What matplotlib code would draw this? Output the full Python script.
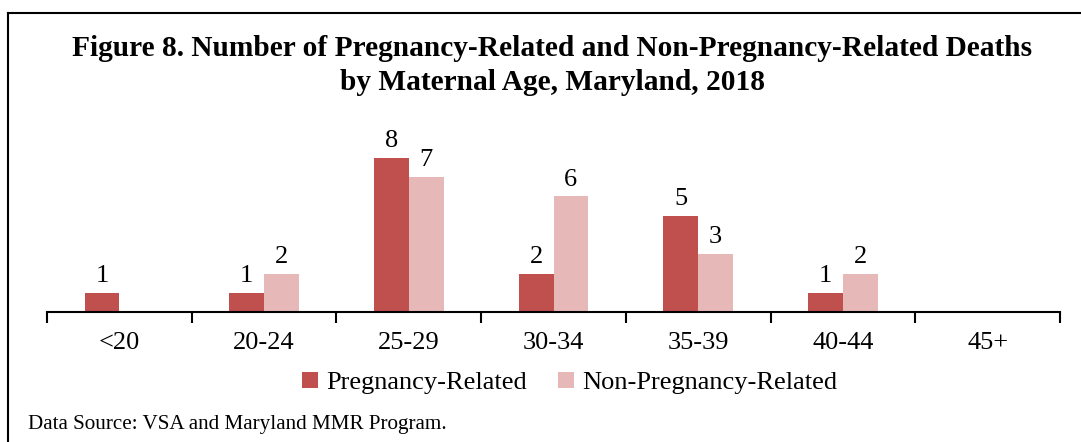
import matplotlib.pyplot as plt
import numpy as np

ages = ['<20', '20-24', '25-29', '30-34', '35-39', '40-44', '45+']
pregnancy_related = [1, 1, 8, 2, 5, 1, 0]
non_pregnancy_related = [0, 2, 7, 6, 3, 2, 0]

plt.rcParams['font.family'] = ['Liberation Serif', 'DejaVu Serif']
serif = 'Liberation Serif'

W, H = 1081, 442
fig = plt.figure(figsize=(W / 100, H / 100), dpi=100)

# outer frame (only left and top edges visible)
fig.add_artist(plt.Line2D([8 / W, 8 / W], [0, 1 - 13 / H], color='black', lw=1.5, transform=fig.transFigure))
fig.add_artist(plt.Line2D([8 / W, 1], [1 - 13 / H, 1 - 13 / H], color='black', lw=1.5, transform=fig.transFigure))

# axes: x 47..1060, y bottom at 312, 19.25 px per unit
ax_left, ax_right = 47, 1060
ax_bottom = 312
ymax = 9
ax_top = ax_bottom - ymax * 19.25
ax = fig.add_axes([ax_left / W, 1 - ax_bottom / H, (ax_right - ax_left) / W, (ax_bottom - ax_top) / H])

x = np.arange(len(ages))
w = 0.24
b1 = ax.bar(x - w / 2, pregnancy_related, w, color='#C0504D', label='Pregnancy-Related')
b2 = ax.bar(x + w / 2, non_pregnancy_related, w, color='#E6B9B8', label='Non-Pregnancy-Related')

for bars, vals in ((b1, pregnancy_related), (b2, non_pregnancy_related)):
    for rect, v in zip(bars, vals):
        if v > 0:
            ax.text(rect.get_x() + rect.get_width() / 2, v + 0.3, str(v),
                    ha='center', va='bottom', fontsize=19, family=serif)

ax.set_xlim(-0.5, len(ages) - 0.5)
ax.set_ylim(0, ymax)
ax.set_yticks([])
for s in ['top', 'right', 'left']:
    ax.spines[s].set_visible(False)
ax.spines['bottom'].set_linewidth(1.5)
ax.set_xticks(np.arange(len(ages) + 1) - 0.5)
ax.set_xticklabels([])
ax.tick_params(axis='x', length=8, width=1.5, direction='out')
for i, a in enumerate(ages):
    ax.text(i, -1.05, a, ha='center', va='top', fontsize=19, family=serif)

ax.legend(loc='center', bbox_to_anchor=(0.516, -0.41), ncol=2, frameon=False,
          prop={'family': serif, 'size': 19}, handlelength=0.6, handleheight=0.6,
          handletextpad=0.3, columnspacing=1.2)

fig.text(552 / W, 1 - 48 / H, 'Figure 8. Number of Pregnancy-Related and Non-Pregnancy-Related Deaths',
         ha='center', va='center', fontsize=21.2, fontweight='bold', family=serif)
fig.text(552 / W, 1 - 82 / H, 'by Maternal Age, Maryland, 2018',
         ha='center', va='center', fontsize=21.2, fontweight='bold', family=serif)
fig.text(28 / W, 1 - 425 / H, 'Data Source: VSA and Maryland MMR Program.',
         ha='left', va='center', fontsize=15.2, family=serif)

fig.savefig('out.png', dpi=100)
